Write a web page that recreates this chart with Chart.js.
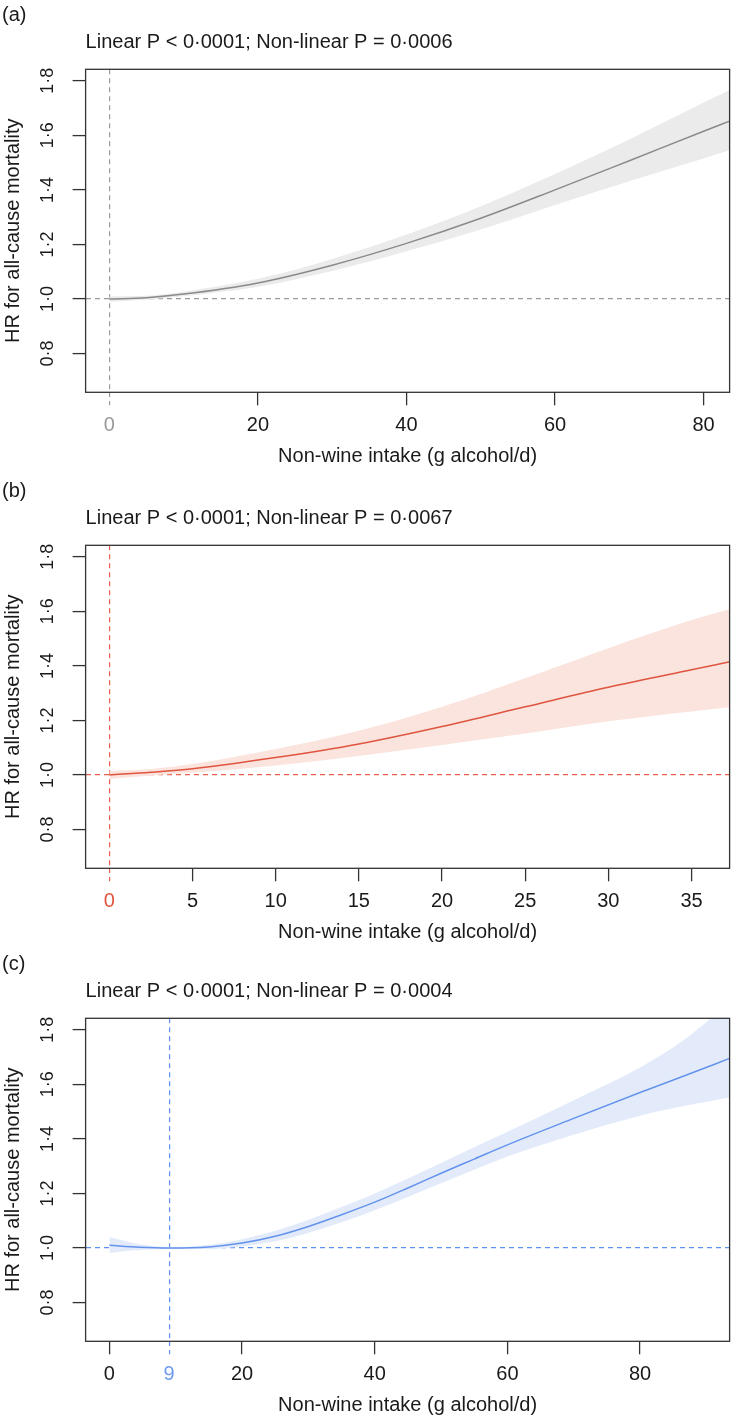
<!DOCTYPE html>
<html>
<head>
<meta charset="utf-8">
<script src="https://cdn.jsdelivr.net/npm/chart.js@4.4.1/dist/chart.umd.min.js"></script>
<style>
  html, body { margin: 0; padding: 0; background: #fff; }
  #page { position: relative; width: 731px; height: 1421px; overflow: hidden; }
  .panel { position: absolute; left: 0; width: 731px; height: 470px; }
  .panel canvas { display: block; }
</style>
</head>
<body>
<div id="page">
  <div class="panel" style="top:0px"><canvas id="chartA" width="731" height="470"></canvas></div>
  <div class="panel" style="top:476px"><canvas id="chartB" width="731" height="470"></canvas></div>
  <div class="panel" style="top:948.5px"><canvas id="chartC" width="731" height="470"></canvas></div>
</div>
<script>
const X_LABEL = "Non-wine intake (g alcohol/d)";
const Y_LABEL = "HR for all-cause mortality";
const yTicks = [0.8, 1.0, 1.2, 1.4, 1.6, 1.8];

// (a)
const aIntake = [0, 5, 10, 20, 30, 40, 50, 60, 70, 80, 83.5];
const aHR     = [1.0, 1.005, 1.018, 1.059, 1.124, 1.204, 1.296, 1.400, 1.507, 1.615, 1.652];
const aLower  = [0.99, 0.998, 1.010, 1.045, 1.103, 1.175, 1.255, 1.345, 1.432, 1.515, 1.545];
const aUpper  = [1.01, 1.012, 1.027, 1.074, 1.147, 1.236, 1.340, 1.458, 1.585, 1.720, 1.765];
const aTicks  = [0, 20, 40, 60, 80];
const aRef    = 0;
const aTitle  = "Linear P < 0·0001; Non-linear P = 0·0006";

// (b)
const bIntake = [0, 2.5, 5, 10, 15, 20, 25, 30, 35, 37.3];
const bHR     = [1.0, 1.010, 1.023, 1.064, 1.114, 1.178, 1.250, 1.322, 1.386, 1.415];
const bLower  = [0.985, 0.998, 1.008, 1.035, 1.070, 1.110, 1.152, 1.197, 1.233, 1.248];
const bUpper  = [1.015, 1.022, 1.040, 1.095, 1.162, 1.250, 1.355, 1.465, 1.568, 1.608];
const bTicks  = [0, 5, 10, 15, 20, 25, 30, 35];
const bRef    = 0;
const bTitle  = "Linear P < 0·0001; Non-linear P = 0·0067";

// (c)
const cIntake = [0, 4.5, 9, 15, 20, 25, 30, 35, 40, 45, 50, 55, 60, 70, 80, 87, 93.5];
const cHR     = [1.010, 1.003, 1.000, 1.004, 1.018, 1.043, 1.079, 1.122, 1.168, 1.220, 1.274, 1.326, 1.378, 1.475, 1.570, 1.634, 1.695];
const cLower  = [0.982, 0.993, 0.996, 0.996, 1.006, 1.025, 1.055, 1.094, 1.138, 1.187, 1.237, 1.287, 1.335, 1.415, 1.485, 1.522, 1.552];
const cUpper  = [1.040, 1.014, 1.004, 1.012, 1.032, 1.063, 1.104, 1.150, 1.200, 1.255, 1.312, 1.369, 1.426, 1.542, 1.662, 1.770, 1.900];
const cTicks  = [0, 9, 20, 40, 60, 80];
const cRef    = 9;
const cTitle  = "Linear P < 0·0001; Non-linear P = 0·0004";

const FONT = "'Liberation Sans', Arial, Helvetica, sans-serif";
const INK = "#1a1a1a";
const CLEAR = "rgba(0,0,0,0)";

const panelText = {
  id: "panelText",
  afterDraw(chart, args, opts) {
    const { ctx, chartArea: a } = chart;
    ctx.save();
    ctx.strokeStyle = "#333";
    ctx.lineWidth = 1.3;
    ctx.strokeRect(a.left, a.top, a.right - a.left, a.bottom - a.top);
    ctx.fillStyle = INK;
    ctx.font = "20px " + FONT;
    ctx.textAlign = "left";
    ctx.textBaseline = "middle";
    ctx.fillText(opts.letter, 2, a.top - 54);
    ctx.textBaseline = "alphabetic";
    ctx.fillText(opts.pText, a.left, a.top - 21);
    ctx.restore();
  }
};

function buildPanel(canvasId, p) {
  const toPoints = (ys) => p.intake.map((x, i) => ({ x, y: ys[i] }));
  const isRef = (c) => c.tick && c.tick.value === p.ref;
  const isOne = (c) => c.tick && c.tick.value === 1;
  return new Chart(document.getElementById(canvasId), {
    type: "line",
    // dataset 0 is drawn last, so the HR line sits on top of the band
    data: { datasets: [
      { data: toPoints(p.hr), borderColor: p.line, borderWidth: 1.5, pointRadius: 0, fill: false, cubicInterpolationMode: "monotone" },
      { data: toPoints(p.upper), borderColor: CLEAR, borderWidth: 0, pointRadius: 0, fill: false, cubicInterpolationMode: "monotone" },
      { data: toPoints(p.lower), borderColor: CLEAR, borderWidth: 0, pointRadius: 0, fill: "-1", backgroundColor: p.band, cubicInterpolationMode: "monotone" }
    ] },
    options: {
      responsive: false, animation: false, events: [],
      layout: { padding: { top: 69.3, right: 1.4, bottom: 0, left: 0 } },
      plugins: { legend: { display: false }, tooltip: { enabled: false },
        panelText: { letter: p.letter, pText: p.title } },
      scales: {
        x: { type: "linear", min: p.xMin, max: p.xMax,
          afterBuildTicks: (s) => { s.ticks = p.ticks.map((v) => ({ value: v })); },
          afterFit: (s) => { s.height = 77.7; },
          border: { display: false, dash: [5, 4] },
          grid: { drawOnChartArea: true, drawTicks: true, tickLength: 13, lineWidth: 1.2,
            color: (c) => isRef(c) ? p.refLine : CLEAR,
            tickColor: (c) => isRef(c) ? p.refLine : "#333",
            tickWidth: (c) => isRef(c) ? 1.2 : 1.3,
            tickBorderDash: (c) => isRef(c) ? [5, 4] : [] },
          ticks: { autoSkip: false, maxRotation: 0, padding: 8, font: { family: FONT, size: 20 },
            color: (c) => c.tick && c.tick.value === p.ref ? p.refLabel : INK,
            callback: (v) => String(v) },
          title: { display: true, text: X_LABEL, color: INK, font: { family: FONT, size: 20 },
            padding: { top: 0, bottom: 1.7 } } },
        y: { type: "linear", min: 0.658, max: 1.842,
          afterBuildTicks: (s) => { s.ticks = yTicks.map((v) => ({ value: v })); },
          afterFit: (s) => { s.width = 85.6; },
          border: { display: false, dash: [5, 4] },
          grid: { drawOnChartArea: true, drawTicks: true, tickLength: 13, lineWidth: 1.2,
            color: (c) => isOne(c) ? p.refLine : CLEAR,
            tickColor: "#333", tickWidth: 1.3, tickBorderDash: [] },
          ticks: { autoSkip: false, minRotation: 90, maxRotation: 90, crossAlign: "center", padding: 11.4,
            color: INK, font: { family: FONT, size: 18 },
            callback: (v) => v.toFixed(1).replace(".", "·") },
          title: { display: true, text: Y_LABEL, color: INK, font: { family: FONT, size: 20 },
            padding: { top: 1, bottom: 0 } } }
      }
    },
    plugins: [panelText]
  });
}

buildPanel("chartA", { letter: "(a)", title: aTitle, intake: aIntake, hr: aHR, lower: aLower, upper: aUpper,
  ticks: aTicks, ref: aRef, xMin: -3.2, xMax: 83.5,
  line: "#8a8a8a", band: "#ebebeb", refLine: "#9a9a9a", refLabel: "#9a9a9a" });
buildPanel("chartB", { letter: "(b)", title: bTitle, intake: bIntake, hr: bHR, lower: bLower, upper: bUpper,
  ticks: bTicks, ref: bRef, xMin: -1.43, xMax: 37.29,
  line: "#df553f", band: "#fbe4de", refLine: "#e8604c", refLabel: "#e0553f" });
buildPanel("chartC", { letter: "(c)", title: cTitle, intake: cIntake, hr: cHR, lower: cLower, upper: cUpper,
  ticks: cTicks, ref: cRef, xMin: -3.59, xMax: 93.5,
  line: "#6493ec", band: "#e3ebfb", refLine: "#5f93f2", refLabel: "#6e9bef" });
</script>
</body>
</html>
